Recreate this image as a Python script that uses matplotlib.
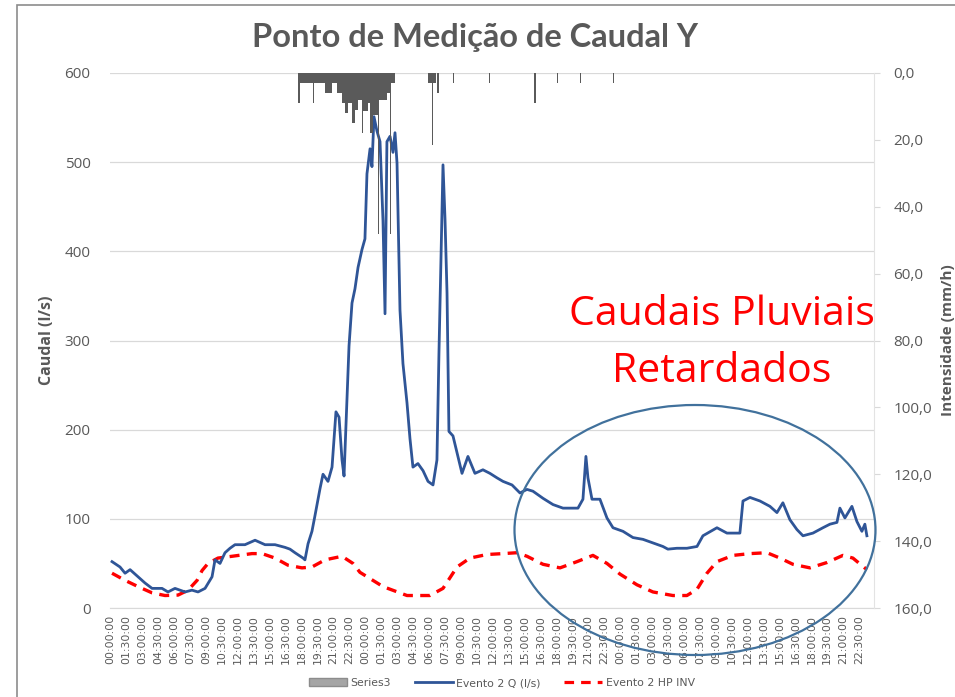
import matplotlib
matplotlib.use("Agg")
import matplotlib.pyplot as plt
from matplotlib.patches import Ellipse, Rectangle, Patch
from matplotlib.lines import Line2D

# ---------------- data ----------------
# time in hours from day-1 00:00
q_hours = [0.14, 0.89, 1.37, 1.84, 2.59, 3.25, 3.91, 4.85, 5.41, 6.07, 7.02, 7.67, 8.24, 8.90,
           9.56, 9.84, 10.31, 10.78, 11.25, 11.72, 12.66, 13.61, 14.55, 15.49, 16.43, 16.90,
           17.37, 18.13, 18.31, 18.60, 18.97, 19.26, 19.73, 20.01, 20.48, 20.86, 21.23, 21.52,
           21.80, 21.99, 22.27, 22.46, 22.74, 23.02, 23.31, 23.68, 23.96, 24.15, 24.44, 24.62,
           24.81, 25.09, 25.38, 25.66, 25.85, 26.03, 26.32, 26.60, 26.79, 26.98, 27.26, 27.54,
           27.92, 28.20, 28.48, 28.95, 29.43, 29.90, 30.37, 30.74, 30.93, 31.31, 31.50, 31.69,
           31.87, 32.25, 32.63, 33.10, 33.66, 34.32, 35.07, 35.73, 36.39, 36.96, 37.81, 38.56,
           39.22, 39.78, 40.73, 41.67, 42.61, 43.55, 44.02, 44.49, 44.77, 44.96, 45.34, 46.09,
           46.75, 47.32, 48.26, 49.20, 50.14, 51.08, 52.02, 52.49, 53.34, 54.28, 55.23, 55.79,
           57.11, 58.05, 59.27, 59.56, 60.22, 61.16, 62.10, 62.76, 63.32, 63.98, 64.64, 65.21,
           66.15, 67.09, 67.75, 68.41, 68.69, 69.16, 69.82, 70.29, 70.76, 71.04, 71.23]
q_values = [52, 46, 39, 43, 35, 28, 22, 22, 18, 22, 18, 20, 18, 22,
            35, 54, 50, 62, 67, 71, 71, 76, 71, 71, 68, 66,
            62, 56, 54, 72, 86, 104, 134, 150, 142, 158, 220, 214,
            166, 148, 234, 294, 342, 358, 382, 402, 414, 487, 515, 495,
            551, 535, 523, 434, 330, 523, 529, 511, 533, 499, 334, 274,
            230, 190, 158, 162, 154, 142, 138, 166, 286, 497, 436, 353,
            198, 193, 174, 151, 170, 151, 155, 151, 146, 142, 138, 129,
            133, 131, 123, 116, 112, 112, 112, 122, 170, 146, 122, 122,
            101, 90, 86, 79, 77, 73, 69, 66, 67, 67, 69, 81,
            90, 84, 84, 120, 124, 120, 114, 107, 118, 99, 88, 81,
            84, 90, 94, 96, 112, 101, 114, 97, 86, 94, 81]

hp_hours = [0.14, 1.37, 2.59, 3.91, 5.13, 6.36, 7.30, 8.15, 8.62, 9.18, 10.12, 11.44, 13.32,
            14.27, 15.49, 16.71, 18.03, 18.97, 20.20, 21.80, 22.83, 23.49, 25.66, 27.92, 30.08,
            31.31, 32.63, 33.85, 35.45, 36.96, 38.28, 39.22, 40.73, 42.33, 43.93, 45.43, 46.75,
            47.98, 49.58, 51.08, 52.96, 54.28, 55.23, 56.17, 57.11, 58.62, 60.22, 61.82, 63.04,
            64.27, 65.87, 67.47, 68.97, 69.91, 71.23]
hp_values = [39, 31, 24, 17, 14, 14.5, 20, 31, 42, 50, 56, 58, 61,
             61, 56, 48, 45, 46, 54, 58, 50, 40, 24, 14, 14,
             22, 46, 56, 60, 61, 62, 58, 49, 45, 52, 59, 50,
             38, 26, 18, 14, 14, 21, 39, 52, 59, 61, 62, 56,
             49, 45, 51, 59, 56, 43]

rain_start = [17.66, 17.84, 19.07, 19.17, 20.20, 20.86, 21.33, 21.80, 22.08, 22.36, 22.74,
              23.02, 23.31, 23.68, 23.77, 24.24, 24.44, 24.72, 25.19, 25.28, 26.03, 26.32,
              26.41, 29.90, 30.27, 30.36, 30.74, 32.25, 35.64, 39.88, 42.05, 44.21, 47.32]
rain_dur = [0.18, 1.23, 0.10, 1.03, 0.66, 0.47, 0.47, 0.28, 0.28, 0.38, 0.28,
            0.29, 0.37, 0.09, 0.47, 0.20, 0.28, 0.47, 0.09, 0.75, 0.29, 0.09,
            0.38, 0.37, 0.09, 0.28, 0.19, 0.09, 0.09, 0.19, 0.09, 0.09, 0.09]
rain_int = [9, 3, 9, 3, 6, 3, 6, 9, 12, 9, 15,
            11, 8, 18, 11.5, 9, 18, 12.5, 48, 8, 6, 48,
            3, 3, 21.5, 3, 6, 3, 3, 9, 3, 3, 3]

day_labels = ["00:00:00", "01:30:00", "03:00:00", "04:30:00", "06:00:00", "07:30:00",
              "09:00:00", "10:30:00", "12:00:00", "13:30:00", "15:00:00", "16:30:00",
              "18:00:00", "19:30:00", "21:00:00", "22:30:00"]
x_labels = day_labels * 3
x_ticks = [1.5 * i for i in range(len(x_labels))]

left_ticks = [0, 100, 200, 300, 400, 500, 600]
right_ticks = [0, 20, 40, 60, 80, 100, 120, 140, 160]
right_labels = ["0,0", "20,0", "40,0", "60,0", "80,0", "100,0", "120,0", "140,0", "160,0"]

# ---------------- figure ----------------
W, H = 955, 697
fig = plt.figure(figsize=(W / 100, H / 100), dpi=100)
gray = "#595959"
tick_font = "Open Sans"

# outer border
fig.patches.append(Rectangle((17 / W, -0.1), 1.2, 1 - 5 / H + 0.1, transform=fig.transFigure,
                             fill=False, edgecolor="#8c8c8c", linewidth=1.2))

ax = fig.add_axes([110 / W, 1 - 608 / H, 764 / W, 535 / H])
ax.set_xlim(-0.05, 71.9)
ax.set_ylim(0, 600)
ax.set_yticks(left_ticks)
ax.set_yticklabels([str(t) for t in left_ticks], fontsize=11, color=gray, family=tick_font)
ax.set_xticks(x_ticks)
ax.set_xticklabels(x_labels, rotation=90, fontsize=7.8, color=gray, family="DejaVu Sans")
ax.tick_params(axis="x", length=0, pad=5)
ax.tick_params(axis="y", length=0, pad=14)
ax.grid(axis="y", color="#D9D9D9", linewidth=0.9)
ax.set_axisbelow(True)
for s in ["top", "left", "right"]:
    ax.spines[s].set_visible(False)
ax.spines["bottom"].set_color("#D9D9D9")

ax.plot(hp_hours, hp_values, color="#FF0000", linewidth=2.4, dashes=(3, 2.2), zorder=3)
ax.plot(q_hours, q_values, color="#2F5597", linewidth=2.0, zorder=4)

ax2 = ax.twinx()
ax2.set_ylim(160, 0)
ax2.bar(rain_start, rain_int, width=rain_dur, align="edge", color="#5a5a5a", linewidth=0)
ax2.set_yticks(right_ticks)
ax2.set_yticklabels(right_labels, fontsize=11, color=gray, family=tick_font)
ax2.tick_params(axis="y", length=4, color="#D9D9D9", pad=10)
for s in ["top", "left", "bottom"]:
    ax2.spines[s].set_visible(False)
ax2.spines["right"].set_color("#E3E3E3")

# axis titles
fig.text(47 / W, 1 - 340 / H, "Caudal (l/s)", rotation=90, ha="center", va="center",
         fontsize=11.5, fontweight="bold", color=gray, family=tick_font)
fig.text(948 / W, 1 - 340 / H, "Intensidade (mm/h)", rotation=90, ha="center", va="center",
         fontsize=11, fontweight="bold", color=gray, family=tick_font)

# title
fig.text(475 / W, 1 - 38 / H, "Ponto de Medição de Caudal Y", ha="center", va="center",
         fontsize=23.5, fontweight="bold", color=gray, family="Lato")

# annotation
fig.text(722 / W, 1 - 315 / H, "Caudais Pluviais", ha="center", va="center",
         fontsize=29.5, color="#FF0000", family="Open Sans")
fig.text(722 / W, 1 - 372 / H, "Retardados", ha="center", va="center",
         fontsize=29.5, color="#FF0000", family="Open Sans")
fig.patches.append(Ellipse((695 / W, 1 - 530 / H), 361 / W, 250 / H, transform=fig.transFigure,
                           fill=False, edgecolor="#41719C", linewidth=1.6))

# legend
handles = [Patch(facecolor="#a5a5a5", edgecolor="#8c8c8c"),
           Line2D([], [], color="#2F5597", linewidth=2),
           Line2D([], [], color="#FF0000", linewidth=2.3, dashes=(3, 2.2))]
labels = ["Series3", "Evento 2 Q (l/s)", "Evento 2 HP INV"]
leg = fig.legend(handles, labels, loc="center", bbox_to_anchor=(502 / W, 1 - 683 / H), ncol=3,
                 frameon=False, fontsize=7.8, handlelength=3.5, handletextpad=0.3,
                 columnspacing=2.2)
for t in leg.get_texts():
    t.set_color(gray)

fig.savefig("out.png", dpi=100)
